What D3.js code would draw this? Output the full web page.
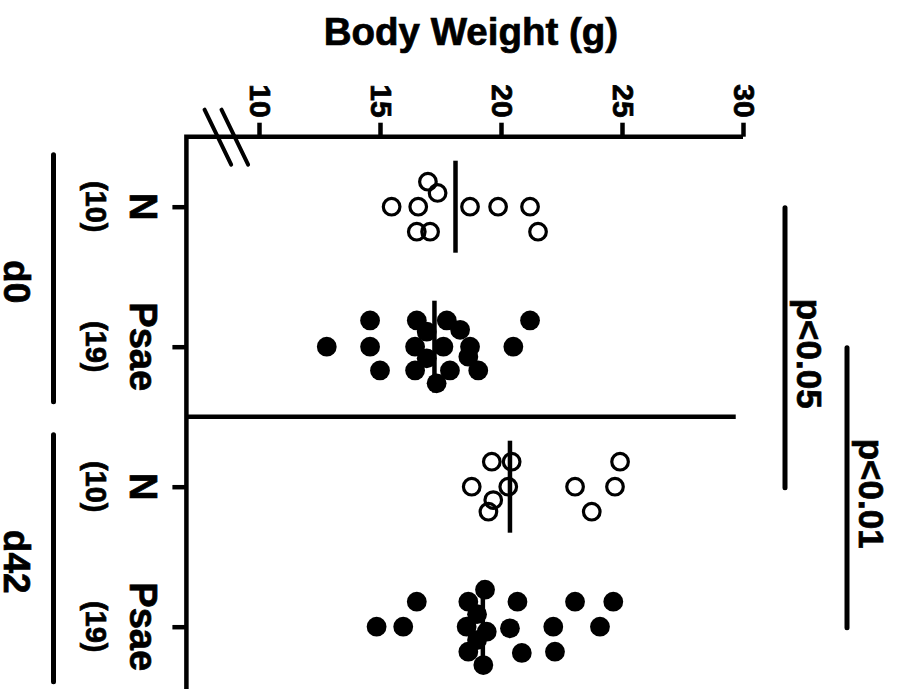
<!DOCTYPE html>
<html><head><meta charset="utf-8">
<script src="https://cdn.jsdelivr.net/npm/d3@7"></script>
<style>
body{margin:0;background:#fff}
svg{display:block}
text{font-family:"Liberation Sans",Arial,Helvetica,sans-serif;font-weight:bold;fill:#000;stroke:#000;stroke-width:0.7px}
</style>
</head><body>
<svg id="chart" width="898" height="689"></svg>
<script>
// ---------------- data ----------------
const title = "Body Weight (g)";
const categoryKeys = ["N-d0", "Psae-d0", "N-d42", "Psae-d42"];
const categoryLabels = ["N", "Psae", "N", "Psae"];
const countLabels = ["(10)", "(19)", "(10)", "(19)"];
const groupLabels = ["d0", "d42"];
const tickValues = [10, 15, 20, 25, 30];
const axisMin = 7;      // axis starts below 10 (broken axis)
const axisMax = 30;

const nD0Values  = [16.98, 17.38, 15.48, 16.58, 18.72, 19.88, 21.20, 16.52, 17.07, 21.53];
const nD0Lanes   = [-2, -1.1, 0, 0, 0, 0, 0, 2, 2, 2];

const psaeD0Values = [14.59, 16.52, 17.76, 21.20, 18.31, 16.93, 12.80, 14.59, 16.45, 17.62,
                      18.72, 20.51, 18.65, 16.93, 15.00, 16.45, 17.89, 19.06, 17.34];
const psaeD0Lanes  = [-2.1, -2.1, -2.1, -2.1, -1.35, -1.2, 0, 0, 0, 0,
                      0, 0, 0.8, 0.93, 1.9, 1.9, 1.9, 1.9, 2.93];

const nD42Values = [19.62, 20.44, 24.92, 18.79, 20.30, 23.06, 24.71, 19.68, 19.48, 23.75];
const nD42Lanes  = [-2, -2, -2, 0, 0, 0, 0, 1.07, 2, 2];

const psaeD42Values = [19.34, 16.52, 18.65, 20.68, 23.06, 24.64, 19.01, 14.86, 15.96, 18.58,
                       20.37, 22.16, 24.09, 19.41, 19.01, 18.65, 20.86, 22.23, 19.27];
const psaeD42Lanes  = [-2.96, -2, -2, -2, -2, -2, -1, 0, 0, 0,
                       0.13, 0, 0, 0.4, 1.07, 2, 2.1, 2, 3.07];

const centerLines = [18.12, 17.25, 20.37, 19.25];   // horizontal summary bars

const comparisons = [["N-d0", "N-d42"], ["Psae-d0", "Psae-d42"]];
const pLabels = ["p<0.05", "p<0.01"];

// ---------------- chart ----------------
const series = [
  {key: "N-d0", values: nD0Values, lanes: nD0Lanes, filled: false},
  {key: "Psae-d0", values: psaeD0Values, lanes: psaeD0Lanes, filled: true},
  {key: "N-d42", values: nD42Values, lanes: nD42Lanes, filled: false},
  {key: "Psae-d42", values: psaeD42Values, lanes: psaeD42Lanes, filled: true}
];

const svg = d3.select("#chart");
const axisY = 136.7;
const x = d3.scaleLinear().domain([10, 30]).range([259, 743]);
const y = d3.scalePoint().domain(categoryKeys).range([axisY, axisY + 560]).padding(0.5);
const lane = d3.scaleLinear().domain([-1, 1]).range([-12.5, 12.5]);
const x0 = x(axisMin);
const lw = 4.5;

// title
svg.append("text").attr("x", 471).attr("y", 45)
  .attr("text-anchor", "middle").style("font-size", "38.5px").text(title);

// value axis (top)
const gx = svg.append("g").attr("transform", `translate(0,${axisY})`)
  .call(d3.axisTop(x).tickValues(tickValues).tickSize(14).tickSizeOuter(0));
gx.attr("font-family", null).attr("font-size", null);
gx.select(".domain").remove();
gx.selectAll(".tick line").attr("stroke", "#000").attr("stroke-width", lw);
gx.selectAll(".tick text")
  .attr("x", 0).attr("y", 0).attr("dy", "0.35em")
  .attr("transform", "translate(1,-19) rotate(90)")
  .attr("text-anchor", "end")
  .style("font-size", "30px")
  .attr("fill", "#000");

// axis frame
svg.append("path")
  .attr("d", `M${x(axisMax)},${axisY}H${x0}V700`)
  .attr("fill", "none").attr("stroke", "#000").attr("stroke-width", lw)
  .attr("stroke-linejoin", "miter");

// axis break marks
[8.3, 9.0].forEach(v => {
  svg.append("line")
    .attr("x1", x(v) - 13.3).attr("y1", axisY - 27)
    .attr("x2", x(v) + 13.3).attr("y2", axisY + 28)
    .attr("stroke", "#000").attr("stroke-width", 4).attr("stroke-linecap", "round");
});

// category axis (left)
const gy = svg.append("g").attr("transform", `translate(${x0},0)`)
  .call(d3.axisLeft(y).tickSize(14).tickSizeOuter(0).tickFormat(""));
gy.select(".domain").remove();
gy.selectAll(".tick line").attr("stroke", "#000").attr("stroke-width", lw);

categoryKeys.forEach((k, i) => {
  svg.append("text")
    .attr("transform", `translate(143,${y(k)}) rotate(90)`)
    .attr("text-anchor", "middle").attr("dy", "0.35em")
    .style("font-size", "38px").text(categoryLabels[i]);
  svg.append("text")
    .attr("transform", `translate(96,${y(k)}) rotate(90)`)
    .attr("text-anchor", "middle").attr("dy", "0.35em")
    .style("font-size", "29px").text(countLabels[i]);
});

// separator between d0 and d42
const sepY = (y(categoryKeys[1]) + y(categoryKeys[2])) / 2;
svg.append("line")
  .attr("x1", x0).attr("x2", x(29.7)).attr("y1", sepY).attr("y2", sepY)
  .attr("stroke", "#000").attr("stroke-width", lw);

// group lines + labels
groupLabels.forEach((g, i) => {
  const a = y(categoryKeys[i * 2]), b = y(categoryKeys[i * 2 + 1]);
  svg.append("line")
    .attr("x1", 53.5).attr("x2", 53.5).attr("y1", a - 52).attr("y2", b + 55)
    .attr("stroke", "#000").attr("stroke-width", 5).attr("stroke-linecap", "round");
  svg.append("text")
    .attr("transform", `translate(17,${(a + b) / 2 + 5}) rotate(90)`)
    .attr("text-anchor", "middle").attr("dy", "0.35em")
    .style("font-size", "37px").text(g);
});

// points
series.forEach(s => {
  const g = svg.append("g");
  g.selectAll("circle").data(s.values.map((v, i) => ({v, l: s.lanes[i]})))
    .join("circle")
    .attr("cx", d => x(d.v))
    .attr("cy", d => y(s.key) + lane(d.l))
    .attr("r", s.filled ? 9.9 : 8.3)
    .attr("fill", s.filled ? "#000" : "none")
    .attr("stroke", s.filled ? "none" : "#000")
    .attr("stroke-width", 3.2);
});

// summary bars
categoryKeys.forEach((k, i) => {
  svg.append("line")
    .attr("x1", x(centerLines[i])).attr("x2", x(centerLines[i]))
    .attr("y1", y(k) - 46).attr("y2", y(k) + 46)
    .attr("stroke", "#000").attr("stroke-width", lw);
});

// significance brackets
const bx = [785, 847];
comparisons.forEach((c, i) => {
  const a = y(c[0]), b = y(c[1]);
  svg.append("line")
    .attr("x1", bx[i]).attr("x2", bx[i]).attr("y1", a + 1).attr("y2", b + 1)
    .attr("stroke", "#000").attr("stroke-width", 5).attr("stroke-linecap", "round");
  svg.append("text")
    .attr("transform", `translate(${bx[i] + 24},${(a + b) / 2 + 7}) rotate(90)`)
    .attr("text-anchor", "middle").attr("dy", "0.35em")
    .style("font-size", "35px").text(pLabels[i]);
});
</script>
</body></html>
